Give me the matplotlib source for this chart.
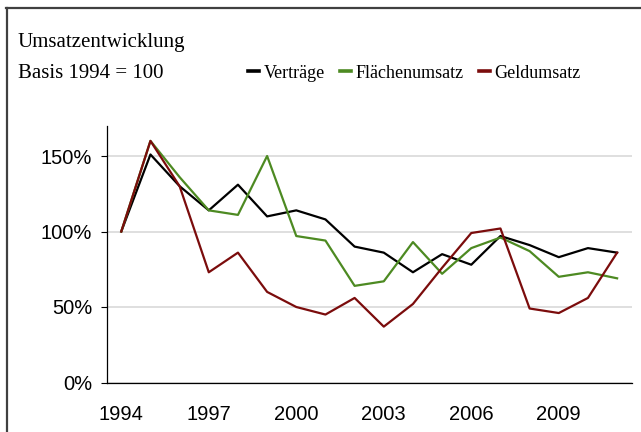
import matplotlib

matplotlib.use("Agg")
import matplotlib.pyplot as plt
from matplotlib.lines import Line2D
from matplotlib.ticker import PercentFormatter

# Daten (Basis 1994 = 100 %)
jahre = list(range(1994, 2012))
vertraege = [1.00, 1.51, 1.30, 1.14, 1.31, 1.10, 1.14, 1.08, 0.90, 0.86,
             0.73, 0.85, 0.78, 0.97, 0.91, 0.83, 0.89, 0.86]
flaechenumsatz = [1.00, 1.60, 1.36, 1.14, 1.11, 1.50, 0.97, 0.94, 0.64, 0.67,
                  0.93, 0.72, 0.89, 0.96, 0.87, 0.70, 0.73, 0.69]
geldumsatz = [1.00, 1.60, 1.30, 0.73, 0.86, 0.60, 0.50, 0.45, 0.56, 0.37,
              0.52, 0.76, 0.99, 1.02, 0.49, 0.46, 0.56, 0.86]
namen = ["Verträge", "Flächenumsatz", "Geldumsatz"]
farben = ["#000000", "#4d8a22", "#7b0c0c"]
xticks = [1994, 1997, 2000, 2003, 2006, 2009]
yticks = [0, 0.5, 1.0, 1.5]

W, H = 641, 432
fig = plt.figure(figsize=(W / 100, H / 100), dpi=100)
ax = fig.add_axes([106.7 / W, (H - 382.5) / H, (631.7 - 106.7) / W, (382.5 - 125.8) / H])

for serie, name, farbe in zip([vertraege, flaechenumsatz, geldumsatz], namen, farben):
    ax.plot(jahre, serie, color=farbe, lw=1.6, label=name, zorder=3)

ax.set_xlim(1993.5, 2011.5)
ax.set_ylim(0, 1.7)
ax.set_yticks(yticks)
ax.yaxis.set_major_formatter(PercentFormatter(1.0, decimals=0))
ax.set_xticks(xticks)
ax.grid(axis="y", color="#d9d9d9", lw=1.2, zorder=0)
ax.tick_params(axis="y", length=4.5, width=0.8, pad=6, labelsize=14.5)
ax.tick_params(axis="x", length=0, pad=16, labelsize=14.5)
for lab in ax.get_xticklabels() + ax.get_yticklabels():
    lab.set_fontfamily("Liberation Sans")
ax.spines["top"].set_visible(False)
ax.spines["right"].set_visible(False)
ax.spines["left"].set_linewidth(0.9)
ax.spines["bottom"].set_linewidth(0.9)

# Titel
fig.text(18 / W, 1 - 43 / H, "Umsatzentwicklung", family="Liberation Serif",
         fontsize=15, va="center", ha="left")
fig.text(18 / W, 1 - 73 / H, "Basis 1994 = 100", family="Liberation Serif",
         fontsize=15, va="center", ha="left")

# Legende
handles = [Line2D([], [], color=f, lw=2.6) for f in farben]
fig.legend(handles, namen, loc="center left", bbox_to_anchor=(239 / W, 1 - 73 / H),
           ncol=3, frameon=False, borderpad=0, handlelength=0.6, handletextpad=0.25,
           columnspacing=0.85, prop={"family": "Liberation Serif", "size": 13})

# Rahmen (oben und links)
fig.add_artist(Line2D([6 / W, 1], [1 - 7.5 / H, 1 - 7.5 / H], color="#404040", lw=1.6,
                      transform=fig.transFigure))
fig.add_artist(Line2D([6.5 / W, 6.5 / W], [0, 1 - 7.5 / H], color="#404040", lw=1.6,
                      transform=fig.transFigure))

fig.savefig("out.png", dpi=100)
